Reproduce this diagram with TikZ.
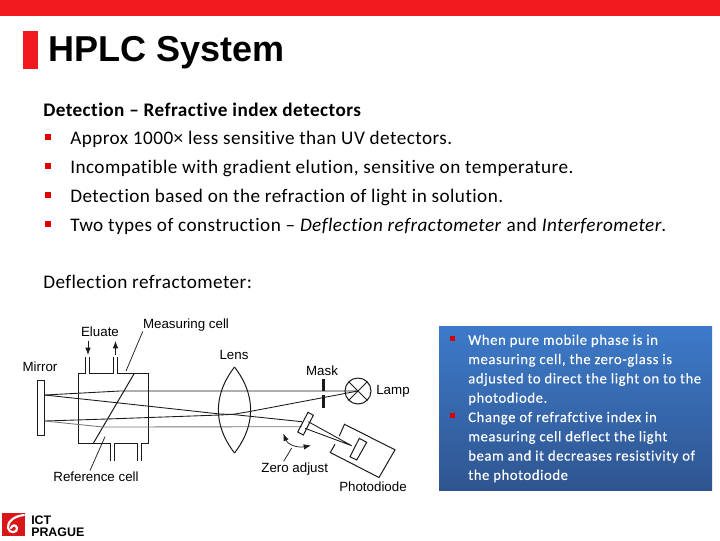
\documentclass[tikz,border=0pt]{standalone}
\usepackage{fontspec}
\setmainfont{Carlito}[LetterSpace=2.3,Ligatures=NoCommon]
\newfontfamily\arialfont{Liberation Sans}
\newfontfamily\notefont{Carlito}[LetterSpace=4.0,Ligatures=NoCommon,FakeBold=0.15]
\usepackage{xcolor}
\usetikzlibrary{arrows.meta}
\definecolor{barred}{HTML}{F01A1E}
\definecolor{boxtop}{HTML}{3D7AC9}
\definecolor{boxbot}{HTML}{2F5590}
\definecolor{lineink}{HTML}{1A1A1A}
\tikzset{
  bodytext/.style={anchor=base west,inner sep=0pt,font=\fontsize{14.4pt}{16pt}\selectfont,text=black},
  boxtext/.style={anchor=base west,inner sep=0pt,font=\notefont\fontsize{11pt}{13pt}\selectfont,text=white},
  partlabel/.style={inner sep=0pt,text=black,font=\arialfont\fontsize{10pt}{12pt}\selectfont},
  logotext/.style={anchor=base west,inner sep=0pt,font=\arialfont\bfseries\fontsize{9.3pt}{10pt}\selectfont},
  part/.style={draw=lineink,line width=0.75pt},
  ray/.style={draw=lineink,line width=0.65pt},
  leader/.style={draw=lineink,line width=0.55pt},
}
\begin{document}
\begin{tikzpicture}[x=0.75pt,y=-0.75pt,>=Latex]
  \useasboundingbox (0,0) rectangle (720,540);
  \fill[barred] (0,0) rectangle (720,16);
  \fill[barred] (23,31) rectangle (38,69);
  \node[anchor=base west,inner sep=0pt,font=\arialfont\bfseries\fontsize{27pt}{30pt}\selectfont] (title) at (48,61) {HPLC System};
  % text block
  \node[bodytext,font=\bfseries\fontsize{14.4pt}{16pt}\selectfont] (head) at (43,116.8) {Detection -- Refractive index detectors};
  \node[bodytext] (itemA) at (70,144.7) {Approx 1000× less sensitive than UV detectors.};
  \node[bodytext] (itemB) at (70,173.7) {Incompatible with gradient elution, sensitive on temperature.};
  \node[bodytext] (itemC) at (70,202.7) {Detection based on the refraction of light in solution.};
  \node[bodytext] (itemD) at (70,231.7) {Two types of construction -- \textit{Deflection refractometer} and \textit{Interferometer}.};
  \foreach \y in {137,166,195,224}
    \fill[red!88!black] (45,\y-3.5) rectangle (51,\y+2.5);
  \node[bodytext] (sub) at (43,288.8) {Deflection refractometer:};
  % blue box
  \fill[top color=boxtop,bottom color=boxbot] (439,326) rectangle (712,490);
  \fill[red!85!black] (449.5,335.5) rectangle (454.5,340.5);
  \fill[red!85!black] (449.5,412.5) rectangle (454.5,417.5);
  \node[boxtext] (noteA) at (468,344.8) {When pure mobile phase is in};
  \node[boxtext] (noteB) at (468,364.1) {measuring cell, the zero-glass is};
  \node[boxtext] (noteC) at (468,383.4) {adjusted to direct the light on to the};
  \node[boxtext] (noteD) at (468,402.7) {photodiode.};
  \node[boxtext] (noteE) at (468,422) {Change of refrafctive index in};
  \node[boxtext] (noteF) at (468,441.3) {measuring cell deflect the light};
  \node[boxtext] (noteG) at (468,460.6) {beam and it decreases resistivity of};
  \node[boxtext] (noteH) at (468,479.9) {the photodiode};
  % mirror and cell
  \draw[part] (37.5,380) rectangle (44.7,435.5);
  \draw[part] (85.5,357)--(85.5,373)--(78,373)--(78,443)--(110.5,443)--(110.5,461);
  \draw[part] (89.5,357)--(89.5,373)--(113,373)--(113,357);
  \draw[part] (117,357)--(117,373)--(148,373)--(148,443)--(141.5,443)--(141.5,461);
  \draw[part] (114.5,461)--(114.5,443)--(137.5,443)--(137.5,461);
  \draw[part] (134.5,373)--(93.5,443);
  \draw[->,leader] (88,341)--(88,355);
  \draw[->,leader] (115.5,355)--(115.5,341);
  % rays
  \draw[ray] (44.7,395)--(120,391)--(358,391);
  \draw[ray] (44.7,395)--(116.7,402.7)--(220,414)--(233,414.5)--(302,421.7);
  \draw[ray] (44.7,421)--(106.7,419)--(220,415)--(233,414.3)--(248.7,411.7)--(358,391);
  \draw[ray,draw=lineink!60] (44.7,421)--(103,427)--(302,426.7);
  % lens, mask, lamp
  \draw[part] (234.5,367) .. controls (213,395) and (213,425) .. (234.5,453);
  \draw[part] (234.5,367) .. controls (256,395) and (256,425) .. (234.5,453);
  \draw[line width=1.9pt,draw=lineink] (323.5,379)--(323.5,391);
  \draw[line width=1.9pt,draw=lineink] (323.5,395)--(323.5,408);
  \draw[part] (358,391) circle (13);
  \draw[part] (348.8,381.8)--(367.2,400.2);
  \draw[part] (348.8,400.2)--(367.2,381.8);
  % zero glass and photodiode
  \draw[part] (308,412.3)--(313.3,415.3)--(303.3,435)--(297.7,432)--cycle;
  \draw[ray] (308.3,421.7)--(351.7,445.7)--(305,428.3);
  \draw[part] (339.3,436)--(344.5,424.3)--(395,449.8)--(379,477.5)--(330.3,452.5)--(335,444.3);
  \draw[part] (359.3,438.3)--(366.7,442.3)--(356.7,460)--(350,456.7)--cycle;
  \draw[<->,leader] (283.3,433.5) .. controls (288,445) and (298,448) .. (311,445.5);
  % labels
  \node[partlabel] (mirrorlabel) at (40,366.7) {Mirror};
  \node[partlabel] (eluatelabel) at (100,332) {Eluate};
  \node[partlabel] (measurelabel) at (186,325) {Measuring cell};
  \node[partlabel] (lenslabel) at (234,355) {Lens};
  \node[partlabel] (masklabel) at (322,371) {Mask};
  \node[partlabel] (lamplabel) at (393,391) {Lamp};
  \node[partlabel] (zerolabel) at (294.7,468.7) {Zero adjust};
  \node[partlabel] (photolabel) at (373,487) {Photodiode};
  \node[partlabel] (reflabel) at (96,476.7) {Reference cell};
  \draw[leader] (measurelabel.south west)--(126,371);
  \draw[leader] (reflabel.north)++(-6,-1)--(105,436.7);
  \draw[leader] (zerolabel.north)++(-11,-1)--(291.7,448);
  % logo
  \fill[barred!90!black] (2,513) rectangle (25,536);
  \draw[white,line width=1.6pt,line cap=round] (24,515) .. controls (14,516) and (7,522) .. (8,528) .. controls (9,534) and (18,533) .. (17,528) .. controls (16,524) and (12,525) .. (11,528);
  \node[logotext] (ict) at (31,524) {ICT};
  \node[logotext] (prague) at (31,536) {PRAGUE};
\end{tikzpicture}
\end{document}
